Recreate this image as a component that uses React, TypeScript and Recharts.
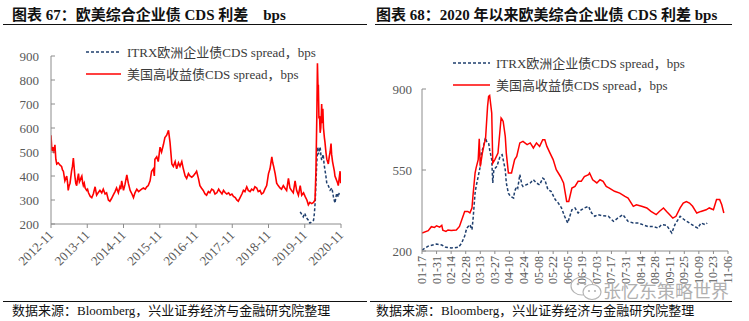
import React from 'react';
import { LineChart, Line, XAxis, YAxis, Legend } from 'recharts';

const SERIF = '"Liberation Serif", "Noto Sans CJK SC", serif';
const RED = '#FF0000';
const NAVY = '#1F3F6E';
const AXIS = '#8C8C8C';
const TICK_TEXT = '#595959';

// 图表67: months since 2012-11
const yearTicks = [0, 12, 24, 36, 48, 60, 72, 84, 96];
const yearLabels = ['2012-11', '2013-11', '2014-11', '2015-11', '2016-11', '2017-11', '2018-11', '2019-11', '2020-11'];
const leftYTicks = [200, 300, 400, 500, 600, 700, 800, 900];

const usHyMonth = [
  0, 0.3, 0.6, 0.9, 1.3, 1.6, 1.9, 2.4, 3.0, 3.5, 3.8, 4.1, 4.6, 5.2, 5.5, 5.7, 6.0, 6.3, 6.8, 7.1,
  7.4, 7.7, 7.9, 8.2, 8.5, 8.8, 9.1, 9.4, 9.6, 10.0, 10.2, 10.5, 10.7, 11.0, 11.3, 11.8, 12.1, 12.4, 13.0, 13.5,
  14.0, 14.6, 15.1, 15.6, 16.2, 16.8, 17.3, 17.9, 18.4, 19.0, 19.5, 20.0, 20.6, 21.2, 21.7, 22.3, 22.8, 23.1, 23.4, 23.7,
  24.0, 24.5, 25.1, 25.6, 26.2, 26.8, 27.3, 27.8, 28.4, 29.0, 29.5, 30.0, 30.6, 31.2, 31.7, 32.2, 32.8, 33.3, 33.9, 34.2,
  34.4, 35.0, 35.5, 36.1, 36.6, 37.2, 37.7, 38.3, 38.9, 39.4, 40.0, 40.5, 41.1, 41.6, 42.2, 42.7, 43.3, 43.8, 44.4, 44.9,
  45.5, 46.0, 46.6, 47.1, 47.7, 48.2, 48.8, 49.3, 49.8, 50.4, 51.0, 51.5, 52.1, 52.6, 53.2, 53.8, 54.3, 54.9, 55.5, 56.0,
  56.6, 57.1, 57.7, 58.2, 58.8, 59.3, 59.9, 60.4, 61.0, 61.5, 62.0, 62.6, 63.2, 63.7, 64.2, 64.8, 65.3, 65.9, 66.4, 67.0,
  67.5, 68.1, 68.6, 69.2, 69.7, 70.3, 70.8, 71.4, 72.0, 72.5, 73.1, 73.4, 73.7, 74.2, 74.7, 75.2, 75.8, 76.3, 76.9, 77.4,
  78.0, 78.6, 79.1, 79.6, 80.2, 80.8, 81.3, 81.9, 82.5, 83.0, 83.6, 84.1, 84.7, 85.2, 85.7, 86.3, 86.9, 87.4, 87.7, 88.0,
  88.2, 88.4, 88.5, 88.7, 88.9, 89.1, 89.3, 89.5, 89.6, 89.8, 90.0, 90.2, 90.5, 90.7, 91.0, 91.3, 91.8, 92.1, 92.4, 92.7,
  92.9, 93.2, 93.5, 93.8, 94.0, 94.3, 94.6, 94.9, 95.1, 95.4, 95.7, 95.9,
];
const usHyLong = [
  570, 505, 520, 495, 530, 470, 450, 455, 445, 440, 425, 420, 380, 400, 370, 340, 360, 370, 420, 440,
  475, 430, 400, 370, 360, 390, 410, 375, 380, 395, 400, 370, 360, 370, 350, 340, 345, 330, 315, 310,
  325, 355, 320, 330, 340, 330, 345, 325, 330, 300, 295, 305, 320, 335, 350, 330, 355, 345, 380, 360,
  340, 365, 405, 370, 340, 325, 310, 330, 345, 335, 340, 345, 350, 345, 355, 360, 380, 420, 430, 400,
  470, 480, 460, 520, 500, 530, 560, 570, 590, 540, 450, 440, 460, 430, 455, 440, 460, 430, 400, 390,
  410, 400, 395, 400, 410, 420, 390, 360, 350, 340, 325, 320, 335, 330, 345, 340, 325, 330, 345, 335,
  325, 340, 330, 325, 330, 320, 325, 315, 310, 300, 295, 310, 325, 340, 335, 355, 340, 335, 345, 340,
  355, 350, 335, 340, 325, 330, 345, 360, 410, 430, 480, 455, 440, 410, 370, 360, 350, 345, 360, 350,
  340, 390, 350, 340, 330, 380, 340, 320, 360, 320, 330, 315, 300, 280, 290, 285, 290, 300, 420, 650,
  870, 760, 780, 640, 650, 580, 600, 660, 700, 620, 680, 600, 560, 540, 500, 470, 450, 480, 500, 535,
  490, 460, 440, 420, 400, 390, 380, 370, 360, 390, 420, 370,
];
const itrxMonth = [
  82.5, 83.0, 83.5, 84.0, 84.6, 85.2, 85.7, 86.3, 86.9, 87.2, 87.5, 87.7, 88.0, 88.3, 88.6, 89.1,
  89.4, 89.6, 90.1, 90.4, 90.7, 91.0, 91.3, 91.8, 92.4, 93.0, 93.5, 94.0, 94.3, 94.6, 95.1, 95.4,
];
const itrxLong = [
  251, 240, 230, 245, 225, 216, 203, 209, 215, 245, 300, 370, 460, 521, 490, 521,
  480, 466, 490, 450, 424, 400, 369, 360, 341, 350, 313, 287, 310, 329, 313, 330,
];

// 图表68: day of year 2020
const dayTicks = [17, 31, 45, 59, 73, 87, 101, 115, 129, 143, 157, 171, 185, 199, 213, 227, 241, 255, 269, 283, 297, 311];
const dayLabels = ['01-17', '01-31', '02-14', '02-28', '03-13', '03-27', '04-10', '04-24', '05-08', '05-22', '06-05',
  '06-19', '07-03', '07-17', '07-31', '08-14', '08-28', '09-11', '09-25', '10-09', '10-23', '11-06'];
const rightYTicks = [200, 550, 900];

const usHyDay = [
  17, 23, 26, 29, 31, 34, 36, 37, 40, 42, 45, 50, 53, 58, 61, 63, 65, 66, 68, 69,
  71, 72, 73, 75, 77, 78, 80, 81, 82, 84, 85, 87, 90, 93, 94, 95, 97, 98, 100, 103,
  106, 108, 111, 114, 118, 121, 124, 127, 130, 133, 135, 137, 140, 143, 146, 150, 153, 156, 158, 161,
  164, 167, 170, 173, 177, 178, 181, 185, 188, 191, 194, 197, 202, 207, 212, 215, 220, 223, 228, 233,
  237, 242, 245, 249, 252, 255, 258, 261, 265, 268, 271, 274, 277, 281, 285, 290, 293, 297, 300, 303,
  305, 307,
];
const usHyYtd = [
  278, 288, 305, 302, 309, 303, 311, 290, 285, 291, 289, 291, 306, 371, 371, 365, 386, 440, 537, 559,
  595, 685, 565, 623, 667, 681, 825, 868, 872, 796, 580, 595, 623, 775, 769, 760, 695, 623, 537, 537,
  595, 609, 667, 674, 660, 667, 645, 667, 652, 681, 681, 652, 623, 595, 551, 522, 494, 414, 414, 472,
  479, 501, 501, 522, 530, 537, 508, 494, 508, 501, 479, 472, 458, 450, 436, 429, 393, 400, 393, 386,
  371, 357, 371, 386, 371, 357, 342, 350, 386, 407, 414, 407, 393, 364, 371, 378, 386, 378, 422, 422,
  400, 364,
];
const itrxDay = [
  17, 23, 31, 36, 40, 45, 52, 55, 58, 60, 63, 65, 66, 68, 69, 71, 73, 74, 76, 78,
  79, 81, 82, 84, 85, 86, 89, 92, 94, 95, 97, 98, 100, 102, 105, 106, 108, 109, 111, 113,
  114, 117, 121, 124, 127, 130, 133, 135, 138, 141, 145, 148, 151, 154, 157, 161, 164, 167, 170, 173,
  177, 180, 183, 186, 191, 196, 201, 205, 210, 215, 220, 225, 229, 234, 239, 244, 247, 252, 257, 260,
  265, 269, 274, 279, 282, 285, 289, 291,
];
const itrxYtd = [
  204, 221, 230, 226, 216, 213, 216, 233, 265, 299, 314, 292, 335, 450, 479, 522, 566, 623, 652, 690,
  674, 667, 638, 595, 494, 551, 566, 609, 616, 595, 551, 494, 450, 436, 429, 458, 479, 472, 530, 486,
  479, 486, 494, 508, 494, 486, 515, 508, 465, 458, 422, 407, 386, 350, 321, 378, 386, 364, 378, 386,
  393, 364, 350, 357, 352, 350, 328, 342, 357, 328, 321, 321, 314, 306, 306, 299, 314, 311, 278, 314,
  350, 335, 321, 306, 299, 321, 314, 321,
];

const zip = (xs: number[], ys: number[]) => xs.map((x, i) => ({ x, v: ys[i] }));

const DiagTick = (props: any) => {
  const { x, y, payload } = props;
  const tx = x + 3;
  const ty = y + 6;
  return (
    <text x={tx} y={ty} transform={`rotate(-45, ${tx}, ${ty})`} textAnchor="end"
      fontSize={13} fill={TICK_TEXT} fontFamily={SERIF}>
      {yearLabels[yearTicks.indexOf(payload.value)]}
    </text>
  );
};

const UpTick = (props: any) => {
  const { x, y, payload } = props;
  const tx = x + 4;
  const ty = y + 2;
  return (
    <text x={tx} y={ty} transform={`rotate(-90, ${tx}, ${ty})`} textAnchor="end"
      fontSize={12} fill={TICK_TEXT} fontFamily={SERIF}>
      {dayLabels[dayTicks.indexOf(payload.value)]}
    </text>
  );
};

const LegendBox = ({ lineLen }: { lineLen: number }) => (
  <svg width={280} height={40} style={{ display: 'block', overflow: 'visible' }}>
    <line x1={0} y1={9} x2={lineLen} y2={9} stroke={NAVY} strokeWidth={1.5} strokeDasharray="3 2" />
    <text x={lineLen + 6} y={9} dominantBaseline="central" fontSize={13} fill="#3a3a3a" fontFamily={SERIF}>
      ITRX欧洲企业债CDS spread，bps
    </text>
    <line x1={0} y1={31} x2={lineLen} y2={31} stroke={RED} strokeWidth={1.5} />
    <text x={lineLen + 6} y={31} dominantBaseline="central" fontSize={13} fill="#3a3a3a" fontFamily={SERIF}>
      美国高收益债CDS spread，bps
    </text>
  </svg>
);

const titleStyle: React.CSSProperties = {
  position: 'absolute', top: 5, fontSize: 15, fontWeight: 'bold', fontFamily: SERIF,
  color: '#111', whiteSpace: 'pre', lineHeight: '20px',
};
const footStyle: React.CSSProperties = {
  position: 'absolute', top: 302, fontSize: 13, fontFamily: SERIF, color: '#111',
  whiteSpace: 'pre', lineHeight: '17px',
};
const rule = (left: number, top: number, width: number): React.CSSProperties => ({
  position: 'absolute', left, top, width, height: 0, borderTop: '1.5px solid #111',
});

export default function App() {
  return (
    <div style={{ position: 'absolute', left: 0, top: 0, width: 749, height: 321, background: '#fff', overflow: 'hidden' }}>
      <div style={{ ...titleStyle, left: 12 }}>图表 67：欧美综合企业债 CDS 利差    bps</div>
      <div style={{ ...titleStyle, left: 376 }}>图表 68：2020 年以来欧美综合企业债 CDS 利差 bps</div>
      <div style={rule(3, 24, 364)} />
      <div style={rule(375, 24, 357)} />

      <div style={{ position: 'absolute', left: 0, top: 0 }}>
        <LineChart width={370} height={300} margin={{ top: 56, right: 29, bottom: 16, left: 0 }}>
          <XAxis dataKey="x" type="number" domain={[0, 96]} ticks={yearTicks} interval={0}
            height={60} stroke={AXIS} tickSize={4} tickMargin={2} tick={<DiagTick />} allowDataOverflow />
          <YAxis type="number" domain={[200, 900]} ticks={leftYTicks} interval={0} width={51}
            stroke={AXIS} tickSize={-4} tickMargin={16} allowDataOverflow
            tick={{ fill: TICK_TEXT, fontSize: 13, fontFamily: SERIF }} />
          <Legend layout="vertical" align="center" verticalAlign="middle"
            wrapperStyle={{ left: 86, top: 43, width: 280, height: 40 }}
            content={() => <LegendBox lineLen={35} />} />
          <Line data={zip(itrxMonth, itrxLong)} dataKey="v" type="linear" stroke={NAVY} strokeWidth={1.5}
            strokeDasharray="3 2" dot={false} isAnimationActive={false} />
          <Line data={zip(usHyMonth, usHyLong)} dataKey="v" type="linear" stroke={RED} strokeWidth={1.6}
            dot={false} isAnimationActive={false} />
        </LineChart>
      </div>

      <div style={{ position: 'absolute', left: 370, top: 0 }}>
        <LineChart width={379} height={300} margin={{ top: 89, right: 21, bottom: 9, left: 0 }}>
          <XAxis dataKey="x" type="number" domain={[17, 311]} ticks={dayTicks} interval={0}
            height={40} stroke={AXIS} tickSize={3} tickMargin={0} tick={<UpTick />} allowDataOverflow />
          <YAxis type="number" domain={[200, 900]} ticks={rightYTicks} interval={0} width={52}
            stroke={AXIS} tickSize={-4} tickMargin={14} allowDataOverflow
            tick={{ fill: TICK_TEXT, fontSize: 13, fontFamily: SERIF }} />
          <Legend layout="vertical" align="center" verticalAlign="middle"
            wrapperStyle={{ left: 83, top: 54, width: 280, height: 40 }}
            content={() => <LegendBox lineLen={37} />} />
          <Line data={zip(itrxDay, itrxYtd)} dataKey="v" type="linear" stroke={NAVY} strokeWidth={1.5}
            strokeDasharray="3 2" dot={false} isAnimationActive={false} />
          <Line data={zip(usHyDay, usHyYtd)} dataKey="v" type="linear" stroke={RED} strokeWidth={1.5}
            dot={false} isAnimationActive={false} />
        </LineChart>
      </div>

      <svg width={40} height={30} style={{ position: 'absolute', left: 568, top: 274 }}>
        <ellipse cx={14} cy={12} rx={11} ry={9} fill="none" stroke="#b5b5b5" strokeWidth={1.2} />
        <ellipse cx={24} cy={18} rx={9} ry={7.5} fill="#fff" stroke="#b5b5b5" strokeWidth={1.2} />
        <circle cx={10} cy={10} r={1.3} fill="#b5b5b5" />
        <circle cx={17} cy={10} r={1.3} fill="#b5b5b5" />
        <circle cx={21} cy={17} r={1.1} fill="#b5b5b5" />
        <circle cx={27} cy={17} r={1.1} fill="#b5b5b5" />
      </svg>
      <div style={{ position: 'absolute', left: 603, top: 279, fontSize: 18, lineHeight: '22px',
        fontFamily: '"Noto Sans CJK SC", sans-serif', color: '#b0b0b0', whiteSpace: 'pre' }}>
        张忆东策略世界
      </div>

      <div style={rule(3, 301, 364)} />
      <div style={rule(370, 301, 362)} />
      <div style={{ ...footStyle, left: 12 }}>数据来源：Bloomberg，兴业证券经济与金融研究院整理</div>
      <div style={{ ...footStyle, left: 376 }}>数据来源：Bloomberg，兴业证券经济与金融研究院整理</div>
    </div>
  );
}
